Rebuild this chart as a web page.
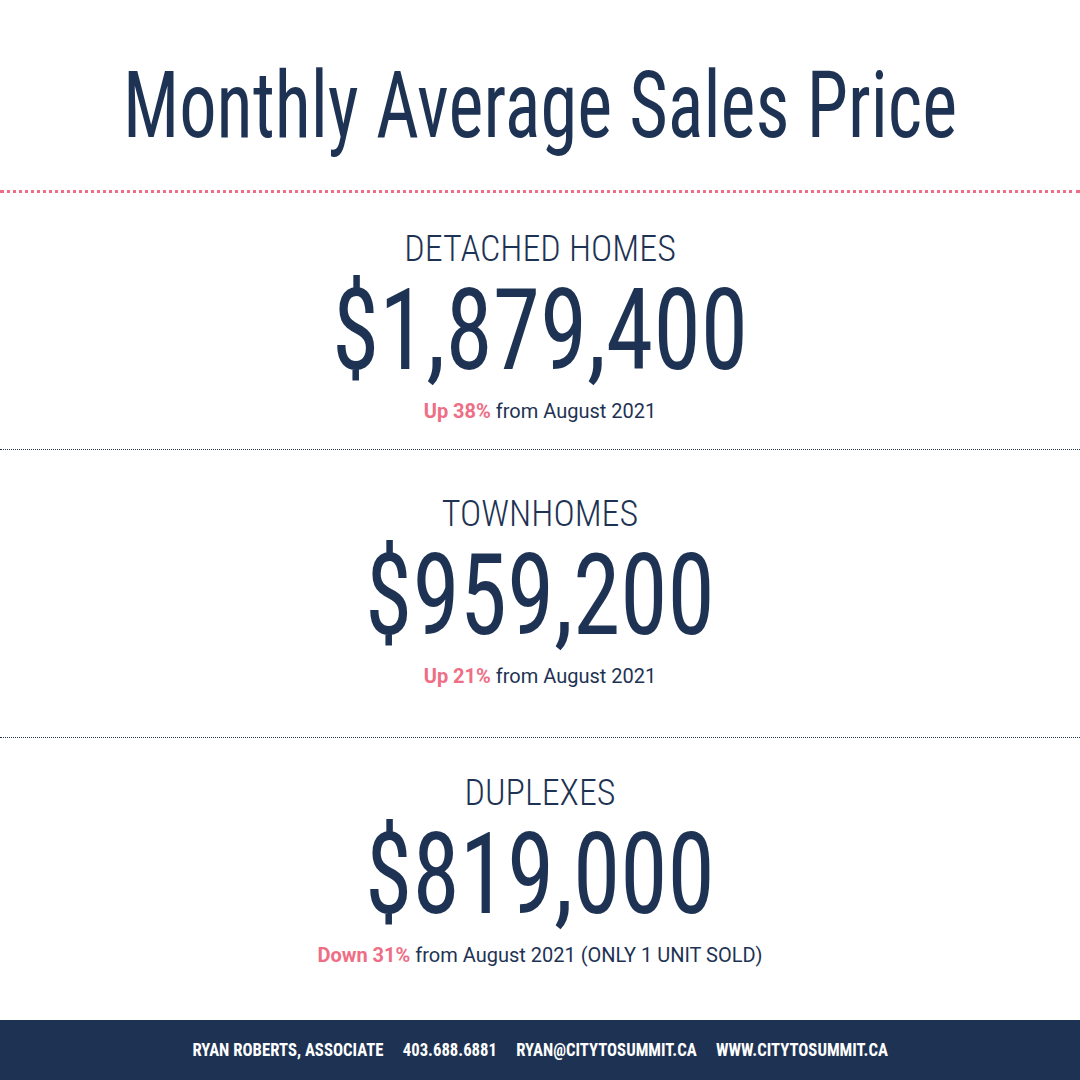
<!DOCTYPE html>
<html><head><meta charset="utf-8">
<script src="https://cdn.jsdelivr.net/npm/chart.js@4"></script>
<style>
body{margin:0;width:1080px;height:1080px;background:#fff;position:relative;overflow:hidden;font-family:"Roboto Condensed","DejaVu Sans Condensed",sans-serif;color:#1e3353}
.c{position:absolute;left:0;width:1080px;text-align:center;white-space:nowrap;line-height:1}
.title{font-size:92px;top:60px;transform:scaleX(0.81)}
.lab{font-size:36px;font-weight:300}
.num{font-size:114px;transform:scaleX(0.84);line-height:0.9}
.sub{font-size:20px;font-family:"Roboto",sans-serif}
.sub b{color:#ee6e85}
.hr{position:absolute;left:0;width:1080px;height:0}
.foot{position:absolute;left:0;top:1020px;width:1080px;height:60px;background:#1e3353;color:#fff;text-align:center;line-height:60px;font-weight:bold;font-size:19px;font-family:"Roboto Condensed","Liberation Sans Narrow",sans-serif}
</style></head><body>
<div class="c title">Monthly Average Sales Price</div>
<div class="hr" style="top:190px;border-top:3px dotted #ee6e85"></div>
<div id="blocks"></div>
<div class="foot"><span style="display:inline-block;transform:scaleX(0.88)">RYAN ROBERTS, ASSOCIATE &nbsp;&nbsp;&nbsp; 403.688.6881 &nbsp;&nbsp;&nbsp; RYAN@CITYTOSUMMIT.CA &nbsp;&nbsp;&nbsp; WWW.CITYTOSUMMIT.CA</span></div>
<script>
const categories = ["DETACHED HOMES", "TOWNHOMES", "DUPLEXES"];
const prices = [1879400, 959200, 819000];
const changes = ["Up 38%", "Up 21%", "Down 31%"];
const notes = ["from August 2021", "from August 2021", "from August 2021 (ONLY 1 UNIT SOLD)"];

const tops = [231, 496, 775];
const lines = [449, 737];
let html = "";
categories.forEach((cat, i) => {
  const t = tops[i];
  html += `<div class="c lab" style="top:${t}px">${cat}</div>`;
  html += `<div class="c num" style="top:${t + 48}px">$${prices[i].toLocaleString("en-US")}</div>`;
  html += `<div class="c sub" style="top:${t + 170}px"><b>${changes[i]}</b> ${notes[i]}</div>`;
  if (i < 2) html += `<div class="hr" style="top:${lines[i]}px;border-top:1.5px dotted #1e3353"></div>`;
});
document.getElementById("blocks").innerHTML = html;
</script>
</body></html>
